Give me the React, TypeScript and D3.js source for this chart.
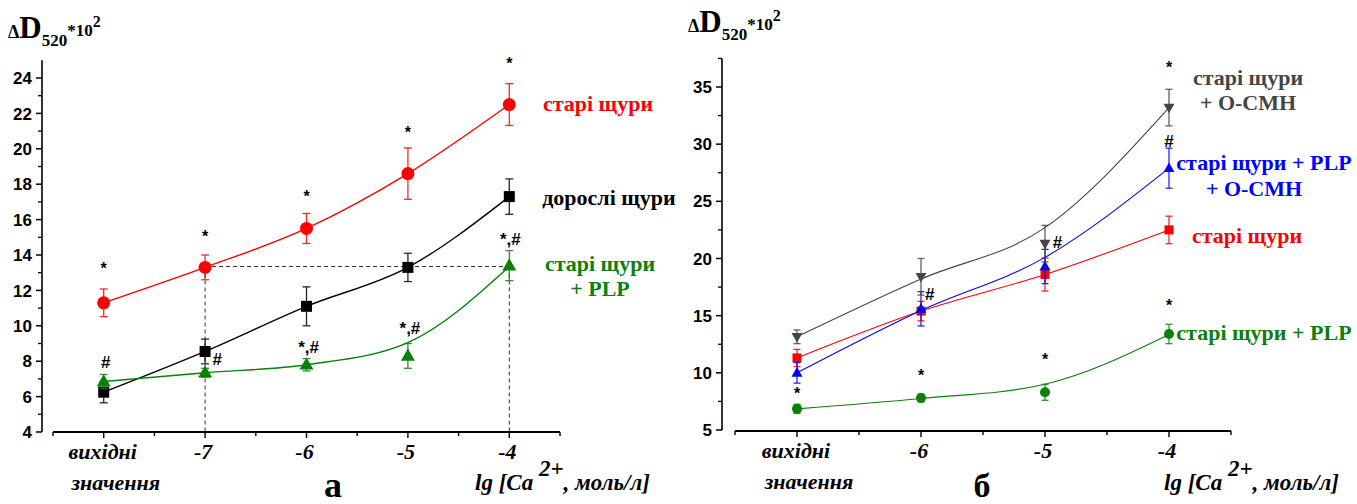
import React from 'react';
import * as d3 from 'd3';

// ---------- DATA: panel "а" ----------
const leftCategories = ['вихідні', '-7', '-6', '-5', '-4'];
const leftYTicks = [4, 6, 8, 10, 12, 14, 16, 18, 20, 22, 24];
const leftOld = [11.3, 13.3, 15.5, 18.6, 22.5];
const leftOldErr = [0.78, 0.7, 0.85, 1.45, 1.18];
const leftAdult = [6.25, 8.55, 11.1, 13.3, 17.3];
const leftAdultErr = [0.6, 0.7, 1.1, 0.8, 1.0];
const leftPlp = [6.85, 7.35, 7.8, 8.3, 13.4];
const leftPlpErr = [0.4, 0.25, 0.35, 0.7, 0.85];
const leftPlpFit = [6.85, 7.35, 7.8, 9.05, 13.35];
// annotations: [x position (category index), y value, text]
const leftNotes: [number, number, string][] = [
  [0, 13.27, '*'], [1, 15.07, '*'], [2, 17.33, '*'], [3, 20.95, '*'], [4, 24.8, '*'],
  [0.02, 7.95, '#'], [1.12, 8.12, '#'], [2.02, 8.8, '*,#'], [3.02, 9.88, '*,#'], [4.01, 14.9, '*,#'],
];
const leftRefLevel = 13.35;

// ---------- DATA: panel "б" ----------
const rightCategories = ['вихідні', '-6', '-5', '-4'];
const rightYTicks = [5, 10, 15, 20, 25, 30, 35];
const rightOcmh = [13.15, 18.4, 21.3, 33.2];
const rightOcmhErr = [0.6, 1.6, 1.6, 1.6];
const rightOcmhFit = [13.15, 18.2, 22.7, 33.2];
const rightPlpOcmh = [10.0, 15.6, 19.3, 27.9];
const rightPlpOcmhErr = [0.9, 1.5, 1.5, 1.75];
const rightPlpOcmhFit = [10.0, 15.45, 20.1, 27.9];
const rightOld = [11.3, 15.4, 18.6, 22.5];
const rightOldErr = [0.75, 0.85, 1.45, 1.2];
const rightPlp = [6.85, 7.8, 8.3, 13.4];
const rightPlpErr = [0.4, 0.35, 0.7, 0.85];
const rightPlpFit = [6.85, 7.75, 9.0, 13.35];
const rightNotes: [number, number, string][] = [
  [0, 8.24, '*'], [1, 9.81, '*'], [2, 11.2, '*'], [3, 15.9, '*'],
  [1.07, 16.9, '#'], [2.1, 21.4, '#'], [3, 30.3, '#'], [3, 36.7, '*'],
];

const RED = '#ff0000';
const GREEN = '#0a800a';
const BLUE = '#0000ff';
const GRAY = '#454545';
const SERIF = "'Liberation Serif'";
const SANS = "'Liberation Sans'";

type Marker = 'circle' | 'square' | 'triUp' | 'triDown';

function MarkerShape({ kind, x, y, size, color }: { kind: Marker; x: number; y: number; size: number; color: string }) {
  if (kind === 'circle') return <circle cx={x} cy={y} r={size / 2} fill={color} />;
  if (kind === 'square') return <rect x={x - size / 2} y={y - size / 2} width={size} height={size} fill={color} />;
  const h = size * 0.87;
  if (kind === 'triUp')
    return <path d={`M${x},${y - h * 0.6} L${x + size / 2},${y + h * 0.4} L${x - size / 2},${y + h * 0.4} Z`} fill={color} />;
  return <path d={`M${x},${y + h * 0.6} L${x + size / 2},${y - h * 0.4} L${x - size / 2},${y - h * 0.4} Z`} fill={color} />;
}

function Series({ xs, ys, vals, errs, fit, color, marker, size, cap, lw }: any) {
  const line = d3
    .line<number>()
    .x((_, i) => xs(i))
    .y((d) => ys(d))
    .curve(d3.curveMonotoneX);
  return (
    <g>
      <path d={line(fit || vals) || ''} fill="none" stroke={color} strokeWidth={lw} />
      {vals.map((v: number, i: number) => {
        const x = xs(i);
        const y1 = ys(v + errs[i]);
        const y2 = ys(v - errs[i]);
        return (
          <g key={i} stroke={color} strokeWidth={1.3} opacity={0.85}>
            <line x1={x} x2={x} y1={y1} y2={y2} />
            <line x1={x - cap / 2} x2={x + cap / 2} y1={y1} y2={y1} />
            <line x1={x - cap / 2} x2={x + cap / 2} y1={y2} y2={y2} />
          </g>
        );
      })}
      {vals.map((v: number, i: number) => (
        <MarkerShape key={'m' + i} kind={marker} x={xs(i)} y={ys(v)} size={size} color={color} />
      ))}
    </g>
  );
}

function YTitle({ x, baseline }: { x: number; baseline: number }) {
  return (
    <text x={x} y={baseline} style={{ fontFamily: SERIF, fontWeight: 'bold' }} fill="#000">
      <tspan fontSize={18}>Δ</tspan>
      <tspan fontSize={31}>D</tspan>
      <tspan fontSize={17} y={baseline + 8}>520</tspan>
      <tspan fontSize={17} y={baseline - 2}>*10</tspan>
      <tspan fontSize={16} y={baseline - 11}>2</tspan>
    </text>
  );
}

function Axes({ xs, ys, xDomain, yTicks, yMinor, yTop, xLabels, axisY, yAxisX }: any) {
  const [x0, x1] = xDomain;
  const xTickVals: number[] = [];
  for (let t = x0; t <= x1 + 1e-9; t += 0.5) xTickVals.push(t);
  const italic = { fontFamily: SERIF, fontWeight: 'bold' as const, fontStyle: 'italic' as const, fontSize: 22 };
  return (
    <g>
      <line x1={yAxisX} x2={yAxisX} y1={ys(yTop)} y2={ys(yTicks[0])} stroke="#000" strokeWidth={1.6} />
      {yTicks.map((t: number) => (
        <g key={'yt' + t}>
          <line x1={yAxisX - 6} x2={yAxisX} y1={ys(t)} y2={ys(t)} stroke="#000" strokeWidth={1.5} />
          <text x={yAxisX - 10} y={ys(t)} dy="0.36em" textAnchor="end" style={{ fontFamily: SANS, fontWeight: 'bold', fontSize: 17 }}>
            {t}
          </text>
        </g>
      ))}
      {yMinor.map((t: number) => (
        <line key={'ym' + t} x1={yAxisX - 4} x2={yAxisX} y1={ys(t)} y2={ys(t)} stroke="#000" strokeWidth={1.3} />
      ))}
      <line x1={xs(x0)} x2={xs(x1)} y1={axisY} y2={axisY} stroke="#000" strokeWidth={1.8} />
      {xTickVals.map((t) => {
        const major = Math.abs(t - Math.round(t)) < 1e-6 && t >= 0 && t <= xLabels.length - 1;
        return (
          <line key={'xt' + t} x1={xs(t)} x2={xs(t)} y1={axisY} y2={axisY + (major ? 6 : 4)} stroke="#000" strokeWidth={1.4} />
        );
      })}
      {xLabels.map((lab: string, i: number) =>
        i === 0 ? (
          <text key={'xl' + i} x={xs(i)} y={axisY + 27} textAnchor="middle" style={italic}>
            <tspan x={xs(i) - 1}>вихідні</tspan>
            <tspan x={xs(i) + 12} dy={31}>значення</tspan>
          </text>
        ) : (
          <text key={'xl' + i} x={xs(i) - 2} y={axisY + 27} textAnchor="middle" style={italic}>
            {lab}
          </text>
        )
      )}
    </g>
  );
}

function Notes({ xs, ys, notes }: any) {
  return (
    <g>
      {notes.map(([xi, v, t]: [number, number, string], i: number) => (
        <text key={i} x={xs(xi)} y={ys(v)} dy="0.35em" textAnchor="middle" style={{ fontFamily: SANS, fontWeight: 'bold', fontSize: t === '*' ? 16 : 17 }} fill="#000">
          {t}
        </text>
      ))}
    </g>
  );
}

function XTitle({ x, y }: { x: number; y: number }) {
  return (
    <text x={x} y={y} style={{ fontFamily: SERIF, fontWeight: 'bold', fontStyle: 'italic', fontSize: 23 }}>
      <tspan>lg [Ca </tspan>
      <tspan y={y - 14}>2+</tspan>
      <tspan y={y}>, моль/л]</tspan>
    </text>
  );
}

function Label({ x, y, color, lines }: { x: number; y: number; color: string; lines: string[] }) {
  return (
    <text x={x} y={y} textAnchor="middle" style={{ fontFamily: SERIF, fontWeight: 'bold', fontSize: 22 }} fill={color}>
      {lines.map((l, i) => (
        <tspan key={i} x={x} dy={i === 0 ? 0 : 25}>
          {l}
        </tspan>
      ))}
    </text>
  );
}

export default function App() {
  // panel а
  const lxs = d3.scaleLinear().domain([-0.5, 4.5]).range([53, 560]);
  const lys = d3.scaleLinear().domain([4, 24]).range([432, 78]);
  const lMinor = d3.range(5, 25, 2);
  // panel б
  const rxs = d3.scaleLinear().domain([-0.5, 3.5]).range([735, 1231]);
  const rys = d3.scaleLinear().domain([5, 35]).range([430, 87]);
  const rMinor = d3.range(7.5, 37.6, 5);

  return (
    <svg width={1357} height={504} style={{ position: 'absolute', left: 0, top: 0, background: '#fff' }}>
      <rect width={1357} height={504} fill="#fff" />
      {/* ---- panel а ---- */}
      <YTitle x={8} baseline={38} />
      <g stroke="#333" strokeWidth={1} strokeDasharray="4,3" fill="none">
        <line x1={lxs(1)} x2={lxs(4)} y1={lys(leftRefLevel)} y2={lys(leftRefLevel)} />
        <line x1={lxs(1)} x2={lxs(1)} y1={lys(leftRefLevel)} y2={432} />
        <line x1={lxs(4)} x2={lxs(4)} y1={lys(leftRefLevel)} y2={432} />
      </g>
      <Series xs={lxs} ys={lys} vals={leftAdult} errs={leftAdultErr} color="#000" marker="square" size={11} cap={8} lw={1.4} />
      <Series xs={lxs} ys={lys} vals={leftPlp} errs={leftPlpErr} fit={leftPlpFit} color={GREEN} marker="triUp" size={14} cap={8} lw={1.4} />
      <Series xs={lxs} ys={lys} vals={leftOld} errs={leftOldErr} color={RED} marker="circle" size={13} cap={8} lw={1.4} />
      <Axes xs={lxs} ys={lys} xDomain={[-0.5, 4.5]} yTicks={leftYTicks} yMinor={lMinor} yTop={25} xLabels={leftCategories} axisY={432} yAxisX={42} />
      <Notes xs={lxs} ys={lys} notes={leftNotes} />
      <Label x={598} y={111} color={RED} lines={['старі щури']} />
      <Label x={609} y={205} color="#000" lines={['дорослі щури']} />
      <Label x={600} y={271} color={GREEN} lines={['старі щури', '+ PLP']} />
      <XTitle x={475} y={490} />
      <text x={333} y={497} textAnchor="middle" style={{ fontFamily: SERIF, fontWeight: 'bold', fontSize: 36 }}>а</text>

      {/* ---- panel б ---- */}
      <YTitle x={688} baseline={32} />
      <Series xs={rxs} ys={rys} vals={rightPlp} errs={rightPlpErr} fit={rightPlpFit} color={GREEN} marker="circle" size={10} cap={7} lw={1.1} />
      <Series xs={rxs} ys={rys} vals={rightOld} errs={rightOldErr} color={RED} marker="square" size={9} cap={7} lw={1.1} />
      <Series xs={rxs} ys={rys} vals={rightPlpOcmh} errs={rightPlpOcmhErr} fit={rightPlpOcmhFit} color={BLUE} marker="triUp" size={11} cap={7} lw={1.1} />
      <Series xs={rxs} ys={rys} vals={rightOcmh} errs={rightOcmhErr} fit={rightOcmhFit} color={GRAY} marker="triDown" size={11} cap={7} lw={1.1} />
      <Axes xs={rxs} ys={rys} xDomain={[-0.5, 3.5]} yTicks={rightYTicks} yMinor={rMinor} yTop={37.5} xLabels={rightCategories} axisY={431} yAxisX={722} />
      <Notes xs={rxs} ys={rys} notes={rightNotes} />
      <Label x={1248} y={85} color={GRAY} lines={['старі щури', '+ O-CMH']} />
      <Label x={1264} y={170} color={BLUE} lines={['старі щури + PLP']} />
      <Label x={1254} y={196} color={BLUE} lines={['+ O-CMH']} />
      <Label x={1247} y={243} color={RED} lines={['старі щури']} />
      <Label x={1264} y={340} color={GREEN} lines={['старі щури + PLP']} />
      <XTitle x={1164} y={490} />
      <text x={982} y={497} textAnchor="middle" style={{ fontFamily: SERIF, fontWeight: 'bold', fontSize: 34 }}>б</text>
    </svg>
  );
}
